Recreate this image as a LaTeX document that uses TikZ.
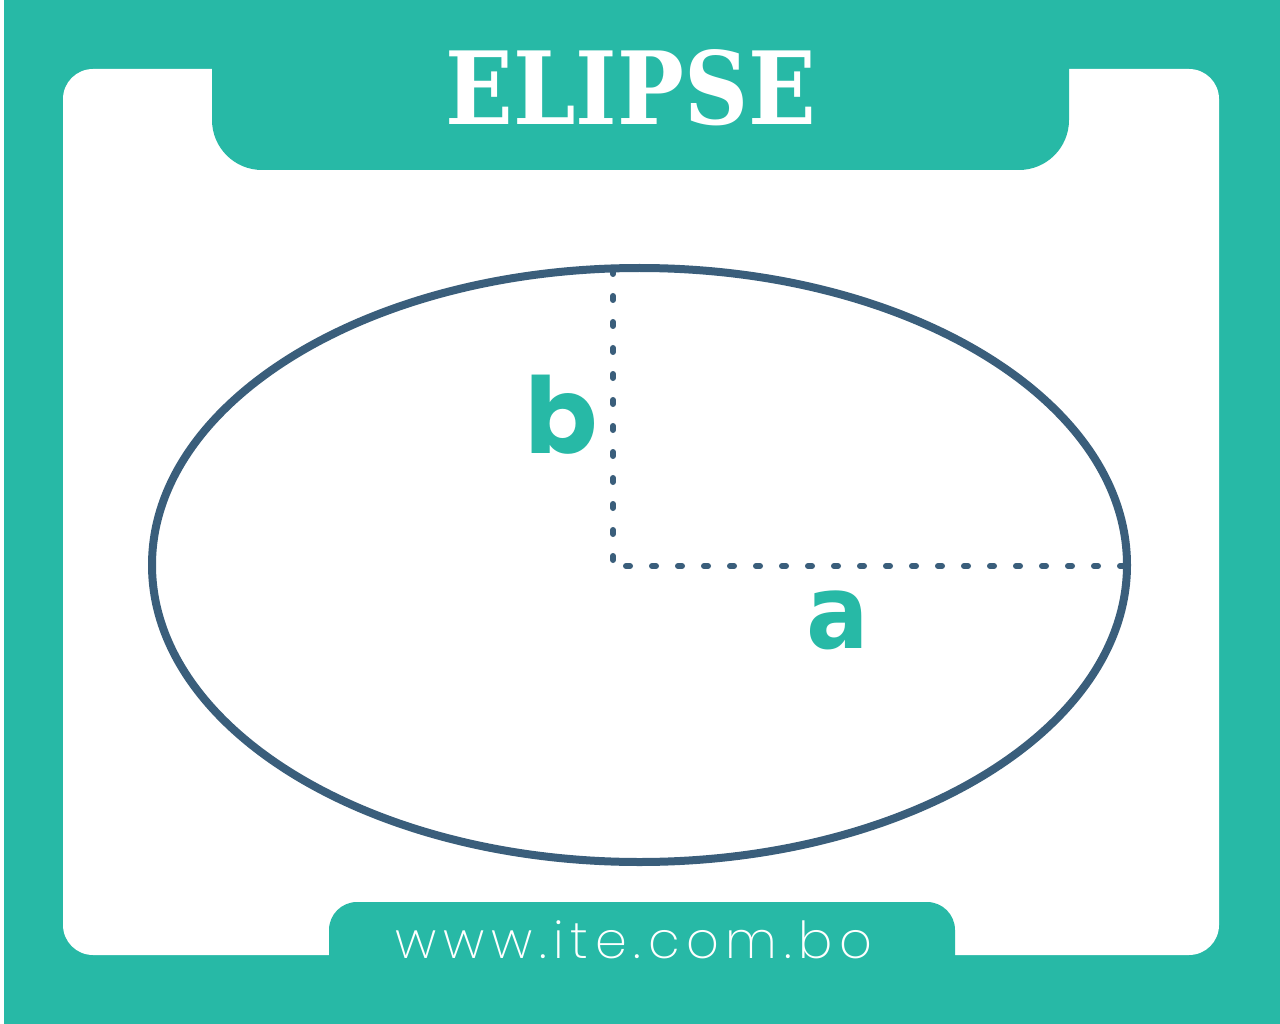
\documentclass[tikz,border=0pt]{standalone}
\usepackage{fontspec}
\newfontfamily\titlefont{DejaVu Serif}
\newfontfamily\urlfont[LetterSpace=13]{Poppins ExtraLight}
\newfontfamily\labelfont{Poppins}
\newfontfamily\afont{DejaVu Sans}
\definecolor{iteteal}{HTML}{27B9A6}
\definecolor{ellcol}{HTML}{3A5E7B}
\tikzset{
  dotline/.style={ellcol, line width=6pt, line cap=round, dash pattern=on 4pt off 22pt},
  lbl/.style={text=iteteal, anchor=base, inner sep=0pt}
}
\begin{document}
\begin{tikzpicture}[x=1pt,y=-1pt]
\useasboundingbox (0,0) rectangle (1280,1024);
\fill[white] (0,0) rectangle (1280,1024);
\fill[iteteal] (4,0) rectangle (1280,1024);
\fill[white, rounded corners=30pt] (63,69) rectangle (1219,955);
\fill[iteteal, rounded corners=50pt] (212,0) -- (212,170) -- (1069,170) -- (1069,0) -- cycle;
\fill[iteteal, rounded corners=28pt] (329,1024) -- (329,902) -- (955,902) -- (955,1024) -- cycle;
\node[text=white, font=\titlefont\bfseries\fontsize{101}{101}\selectfont, anchor=base, inner sep=0pt] (title) at (631,125) {\scalebox{0.88}[1]{ELIPSE}};
\node[text=white, font=\urlfont\fontsize{51}{51}\selectfont, anchor=base, inner sep=0pt] (url) at (634,958) {www.ite.com.bo};
\draw[ellcol, line width=8pt] (639.5,565) ellipse [x radius=487.5, y radius=297];
\coordinate (vtop) at (613,270);
\coordinate (vbot) at (613,562);
\coordinate (hleft) at (626,566);
\coordinate (hright) at (1126,566);
\draw[dotline] (vtop) -- (vbot);
\draw[dotline] (hleft) -- (hright);
\node[lbl, font=\labelfont\bfseries\fontsize{106}{106}\selectfont] (b) at (561,453) {b};
\node[lbl, font=\afont\bfseries\fontsize{103}{103}\selectfont] (a) at (838,648) {\scalebox{0.9}[1]{a}};
\end{tikzpicture}
\end{document}
